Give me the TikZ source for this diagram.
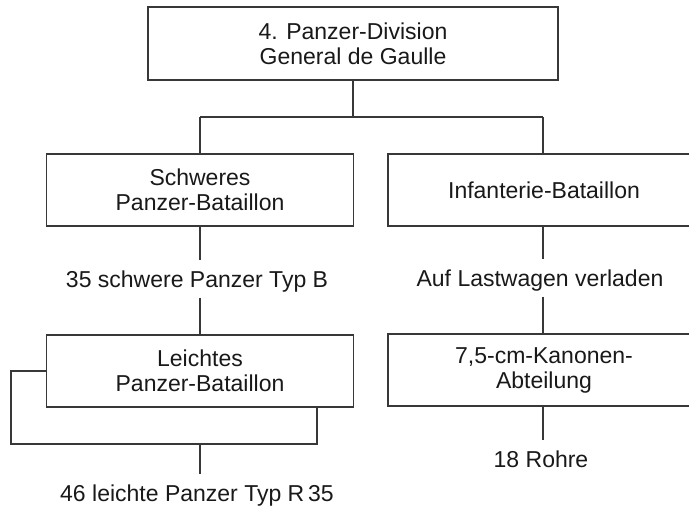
\documentclass[tikz,border=0pt]{standalone}
\usepackage{fontspec}
\setmainfont{Liberation Sans}
\begin{document}
\begin{tikzpicture}[x=0.5pt,y=-0.5pt,
  ink/.style={draw=black!78, line width=0.9pt},
  unit/.style={ink, align=center, inner sep=0pt, minimum height=36pt,
    font=\fontsize{11.5}{12.5}\selectfont, text=black!90},
  note/.style={font=\fontsize{11.5}{12.5}\selectfont, text=black!90,
    text height=8.2pt, text depth=0pt, inner xsep=0pt, inner ysep=5pt},
]
\path[use as bounding box] (0,0) rectangle (689,506);
\clip (0,0) rectangle (689,506);
\fill[white] (0,0) rectangle (689,506);

% divisional command
\node[unit, minimum width=205pt, minimum height=36.5pt] (top) at (353,43.5)
  {4. Panzer-Division\\General de Gaulle};

% left column: tank battalions
\node[unit, minimum width=153.5pt] (schw) at (200,190) {Schweres\\Panzer-Bataillon};
\node[note] (t35) at (197,279) {35 schwere Panzer Typ B};
\node[unit, minimum width=153.5pt] (leicht) at (200,371) {Leichtes\\Panzer-Bataillon};
\node[note] (t46) at (197,493) {46 leichte Panzer Typ R\,35};

% right column: infantry and artillery
\node[unit, minimum width=156pt] (inf) at (544,190) {Infanterie-Bataillon};
\node[note] (tauf) at (540,278) {Auf Lastwagen verladen};
\node[unit, minimum width=156pt] (kan) at (544,370) {7,5-cm-Kanonen-\\Abteilung};
\node[note] (t18) at (541,459) {18 Rohre};

% branch below the division
\coordinate (bl) at (200,117);
\coordinate (br) at (543,117);
\draw[ink] (top.south) -- (top.south |- bl);
\draw[ink] (bl) -- (br);
\draw[ink] (bl) -- (bl |- schw.north);
\draw[ink] (br) -- (br |- inf.north);

% left column links
\draw[ink] (schw.south) -- (schw.south |- t35.north);
\draw[ink] (schw.south |- t35.south) -- (leicht.north);
\coordinate (bkl) at (11,444);
\coordinate (bkr) at (317,444);
\coordinate (bkm) at (200,444);
\draw[ink] (leicht.west) -| (bkl) -- (bkr) -- (bkr |- leicht.south);
\draw[ink] (bkm) -- (bkm |- t46.north);

% right column links
\draw[ink] (br |- inf.south) -- (br |- tauf.north);
\draw[ink] (br |- tauf.south) -- (br |- kan.north);
\draw[ink] (br |- kan.south) -- (br |- t18.north);
\end{tikzpicture}
\end{document}
